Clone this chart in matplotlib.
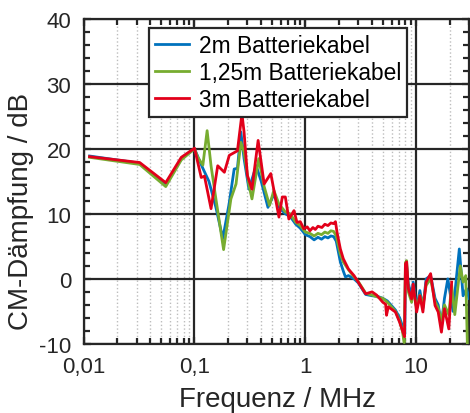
import matplotlib
matplotlib.use("Agg")
from matplotlib import pyplot as plt
from matplotlib.ticker import FixedLocator, NullFormatter, MultipleLocator
import numpy as np

plt.rcParams['font.family'] = ['Liberation Sans', 'DejaVu Sans']
plt.rcParams['axes.unicode_minus'] = False

# 2m Batteriekabel
f_2m = [0.0113, 0.032, 0.055, 0.076, 0.1, 0.119, 0.135, 0.156, 0.18, 0.205,
        0.228, 0.244, 0.262, 0.28, 0.31, 0.36, 0.40, 0.46, 0.52, 0.58,
        0.66, 0.73, 0.82, 0.9, 1.0, 1.1, 1.2, 1.3, 1.4, 1.5,
        1.6, 1.7, 1.8, 1.9, 2.07, 2.2, 2.3, 2.45, 2.75, 3.0,
        3.5, 4.0, 4.5, 5.0, 5.5, 6.5, 7.1, 7.6, 7.9, 8.0,
        8.2, 8.5, 9.1, 9.4, 10.1, 10.8, 11.5, 12.3, 13.5, 14.8,
        15.8, 16.9, 18.0, 19.3, 21.5, 24.5, 26.5, 28.5, 30.0]
d_2m = [18.9, 17.8, 14.5, 18.5, 20.0, 17.0, 15.0, 11.0, 6.2, 11.5,
        16.9, 17.0, 22.6, 18.5, 13.8, 17.4, 15.0, 11.0, 13.0, 11.0,
        10.0, 9.6, 8.4, 7.8, 6.8, 6.5, 6.0, 6.4, 6.1, 6.5,
        6.3, 6.6, 6.5, 5.8, 2.6, 1.2, 0.3, 0.5, 0.0, -0.6,
        -2.4, -2.6, -2.7, -3.0, -3.4, -4.8, -6.0, -7.5, -8.5, 1.5,
        2.0, -0.8, -2.5, -0.5, -4.5, -1.8, -4.5, 0.0, 0.5, -3.0,
        -4.0, -7.0, -3.0, 0.0, -5.0, 4.6, -2.6, -1.5, -3.0]

# 1,25m Batteriekabel
f_125m = [0.0113, 0.032, 0.055, 0.076, 0.1, 0.107, 0.119, 0.130, 0.141, 0.156,
          0.183, 0.213, 0.237, 0.262, 0.28, 0.31, 0.33, 0.38, 0.425, 0.475,
          0.52, 0.578, 0.66, 0.73, 0.82, 0.9, 1.0, 1.1, 1.2, 1.3,
          1.4, 1.5, 1.6, 1.7, 1.8, 1.9, 2.07, 2.2, 2.45, 2.75,
          3.0, 3.5, 4.0, 4.5, 5.0, 5.5, 6.5, 7.1, 7.5, 7.8,
          8.0, 8.2, 8.5, 9.1, 9.4, 10.1, 10.8, 11.5, 12.3, 13.5,
          14.8, 15.8, 16.9, 18.0, 19.7, 20.9, 22.3, 25.0, 26.5, 28.0,
          29.0]
d_125m = [18.7, 17.6, 14.2, 18.3, 20.0, 18.7, 17.5, 22.8, 17.4, 12.3,
          4.5, 12.3, 14.6, 21.0, 19.5, 14.4, 12.3, 18.5, 14.2, 11.3,
          13.6, 11.5, 10.3, 10.0, 8.7, 8.2, 7.2, 7.0, 6.6, 7.0,
          6.8, 7.2, 7.0, 7.4, 7.3, 6.6, 3.8, 2.6, 1.4, 0.3,
          -0.4, -2.2, -2.5, -2.8, -3.0, -3.6, -5.0, -6.5, -8.0, -9.8,
          2.5, 2.8, -2.0, -3.6, -1.5, -4.5, -2.5, -4.0, -1.0, 0.0,
          -3.5, -4.5, -6.5, -4.0, -5.5, -1.0, -5.5, 2.0, -0.5, 0.5,
          -10.5]

# 3m Batteriekabel
f_3m = [0.0113, 0.032, 0.055, 0.076, 0.1, 0.115, 0.123, 0.141, 0.162, 0.186,
        0.206, 0.244, 0.268, 0.28, 0.30, 0.33, 0.375, 0.425, 0.488, 0.578,
        0.62, 0.66, 0.71, 0.79, 0.84, 0.9, 0.97, 1.04, 1.1, 1.17,
        1.23, 1.3, 1.41, 1.5, 1.6, 1.7, 1.8, 1.87, 1.93, 2.07,
        2.2, 2.45, 2.75, 3.0, 3.5, 4.0, 4.4, 5.0, 5.3, 5.4,
        5.6, 6.5, 7.1, 7.6, 7.85, 8.0, 8.2, 8.5, 9.1, 9.4,
        10.1, 10.8, 11.5, 12.3, 13.5, 14.8, 15.8, 16.9, 18.0, 19.7,
        20.9]
d_3m = [18.8, 17.9, 14.8, 18.7, 20.1, 15.6, 15.8, 10.8, 17.4, 16.4,
        19.0, 19.7, 25.4, 22.6, 15.9, 13.8, 21.3, 14.6, 16.2, 9.5,
        12.6, 12.6, 9.2, 10.5, 8.7, 8.8, 7.7, 8.0, 7.4, 7.9,
        7.6, 8.1, 7.9, 8.4, 8.2, 8.6, 8.5, 8.8, 7.2, 4.6,
        3.1, 1.5, 0.5, -0.5, -2.3, -2.0, -2.5, -3.6, -3.9, -5.6,
        -4.3, -5.1, -6.7, -8.2, -8.9, 2.3, 2.6, -1.5, -3.1, -0.8,
        -5.1, -2.6, -5.1, -0.5, 0.8, -4.1, -5.1, -8.2, -4.6, -7.7,
        -0.5]

x_ticks = [0.01, 0.1, 1, 10]
x_labels = ["0,01", "0,1", "1", "10"]
y_ticks = [-10, 0, 10, 20, 30, 40]

fig = plt.figure(figsize=(4.7, 4.14), dpi=100)
ax = fig.add_axes([0.178, 0.167, 0.820, 0.785])

ax.plot(f_2m, d_2m, color='#0072BD', lw=2.0, label='2m Batteriekabel', zorder=3)
ax.plot(f_125m, d_125m, color='#77AC30', lw=2.0, label='1,25m Batteriekabel', zorder=3)
ax.plot(f_3m, d_3m, color='#E2001A', lw=2.0, label='3m Batteriekabel', zorder=3)

ax.set_xscale('log')
ax.set_xlim(0.01, 30)
ax.set_ylim(-10, 40)
ax.set_xticks(x_ticks)
ax.set_xticklabels(x_labels)
minor = [m * 10.0 ** e for e in range(-2, 2) for m in range(2, 10)]
ax.xaxis.set_minor_locator(FixedLocator(minor))
ax.xaxis.set_minor_formatter(NullFormatter())
ax.set_yticks(y_ticks)
ax.yaxis.set_minor_locator(MultipleLocator(2))

ax.grid(which='major', color='#262626', lw=1.6, ls='-')
ax.grid(which='minor', axis='x', color='#bdbdbd', lw=1.0, ls=':')
ax.set_axisbelow(True)

ax.tick_params(which='both', direction='in', top=True, right=True,
               labelsize=16, colors='#262626', width=1.6)
ax.tick_params(which='major', length=5)
ax.tick_params(which='minor', length=4)
ax.tick_params(axis='x', which='major', pad=9)
ax.tick_params(axis='y', which='major', pad=9)
for s in ax.spines.values():
    s.set_linewidth(1.6)
    s.set_color('#262626')

ax.set_xlabel('Frequenz / MHz', fontsize=20, color='#262626')
ax.set_ylabel('CM-Dämpfung / dB', fontsize=20, color='#262626')
ax.xaxis.set_label_coords(0.502, -0.129)
ax.yaxis.set_label_coords(-0.13, 0.41)

leg = ax.legend(loc='upper left', bbox_to_anchor=(0.17, 0.972), fontsize=16.4,
                frameon=True, fancybox=False, framealpha=1, edgecolor='#262626',
                handlelength=1.5, handletextpad=0.45, borderpad=0.25,
                labelspacing=0.18, borderaxespad=0)
leg.get_frame().set_linewidth(1.6)

plt.savefig('out.png', dpi=100)
